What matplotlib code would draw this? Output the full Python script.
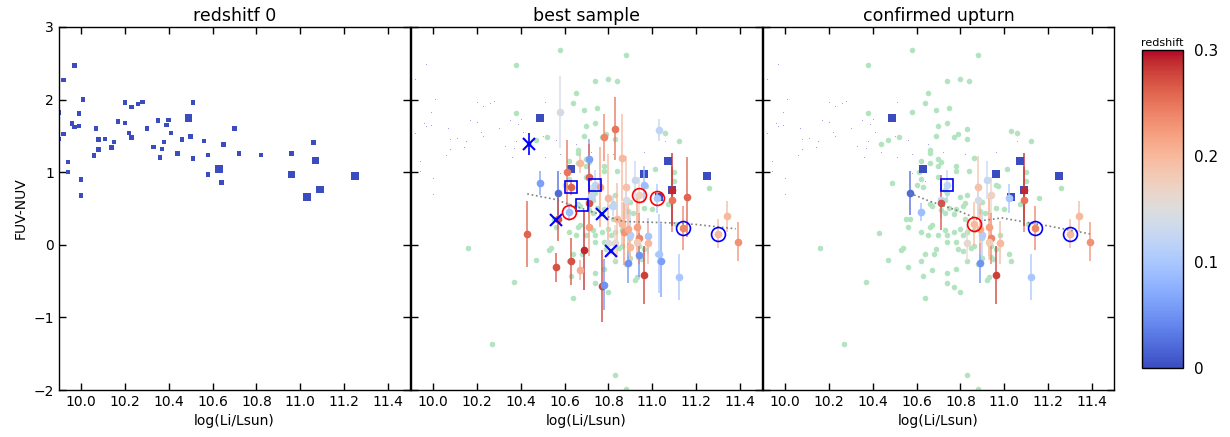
import numpy as np
import matplotlib
matplotlib.use("Agg")
from matplotlib import pyplot as plt
from matplotlib.colors import Normalize
from matplotlib.cm import ScalarMappable

# --- redshift 0 sample (big = the ones kept in the best sample) ---
z0_lum = [9.90, 9.90, 9.97, 9.92, 10.01, 9.99, 9.96, 9.97, 9.99, 9.92, 9.94, 9.94, 10.00, 10.00,
          10.07, 10.08, 10.08, 10.06, 10.11, 10.15, 10.14, 10.17, 10.20, 10.20, 10.23, 10.26,
          10.28, 10.22, 10.23, 10.30, 10.33, 10.35, 10.37, 10.36, 10.38, 10.39, 10.40, 10.41,
          10.44, 10.46, 10.49, 10.50, 10.51, 10.51, 10.56, 10.58, 10.58, 10.63, 10.64, 10.65,
          10.70, 10.72, 10.82, 10.96, 10.96, 11.06, 11.07, 11.03, 11.09, 11.25]
z0_col = [1.82, 1.46, 2.47, 2.27, 2.00, 1.81, 1.67, 1.62, 1.64, 1.53, 1.14, 1.00, 0.90, 0.68,
          1.60, 1.45, 1.31, 1.23, 1.46, 1.42, 1.34, 1.70, 1.68, 1.96, 1.90, 1.94,
          1.97, 1.54, 1.48, 1.60, 1.35, 1.71, 1.32, 1.20, 1.42, 1.65, 1.72, 1.54,
          1.26, 1.45, 1.75, 1.49, 1.96, 1.19, 1.43, 1.24, 0.97, 1.04, 0.86, 1.38,
          1.60, 1.26, 1.24, 1.26, 0.97, 1.41, 1.16, 0.66, 0.76, 0.95]
z0_big = [0] * 40 + [1] + [0] * 6 + [1] + [0] * 6 + [1, 0, 1, 1, 1, 1]

# --- comparison sample (green) ---
bg_lum = [10.58, 10.88, 10.38, 10.74, 10.80, 10.84, 10.65, 10.64, 10.75, 10.69, 10.58, 10.38,
          10.74, 10.70, 10.83, 11.03, 11.06, 10.69, 10.79, 10.77, 10.83, 10.52, 10.47, 10.44,
          11.12, 10.66, 10.86, 10.70, 10.62, 10.66, 10.71, 10.78, 10.70, 10.78, 10.84, 11.01,
          11.10, 11.10, 10.61, 10.62, 10.60, 10.63, 10.70, 10.49, 10.73, 10.74, 10.96, 10.97,
          11.26, 11.16, 10.80, 10.83, 10.73, 11.07, 11.00, 10.96, 10.66, 10.67, 10.71, 10.73,
          10.77, 10.81, 10.82, 10.89, 10.91, 10.55, 10.57, 10.56, 10.43, 10.67, 10.70, 10.65,
          10.62, 10.74, 10.77, 10.80, 10.81, 10.74, 10.78, 10.69, 10.68, 10.64, 10.54, 10.53,
          10.47, 10.62, 10.56, 10.67, 10.63, 10.74, 10.81, 10.83, 10.86, 10.88, 10.94, 10.95,
          11.02, 11.03, 10.98, 10.94, 10.96, 10.93, 10.90, 10.86, 10.83, 11.11, 10.77, 10.80,
          10.92, 10.93, 10.64, 10.37, 10.16, 10.27, 10.83, 10.88, 10.66, 10.75, 10.78, 10.90,
          10.82, 10.73, 10.79, 10.85, 10.90, 10.78, 10.74, 10.66]
bg_col = [2.69, 2.62, 2.48, 2.25, 2.28, 2.26, 2.09, 1.96, 1.89, 1.85, 1.83, 1.81,
          1.68, 1.63, 1.60, 1.57, 1.54, 1.50, 1.53, 1.48, 1.46, 1.48, 1.45, 1.39,
          1.43, 1.30, 1.20, 1.18, 1.15, 1.13, 1.14, 1.08, 1.08, 1.01, 1.01, 1.05,
          1.00, 0.88, 1.00, 0.91, 0.82, 0.79, 0.94, 0.85, 0.76, 0.71, 0.83, 0.81,
          0.78, 0.65, 0.66, 0.69, 0.62, 0.56, 0.49, 0.50, 0.56, 0.53, 0.48, 0.44,
          0.43, 0.53, 0.57, 0.46, 0.44, 0.36, 0.36, 0.24, 0.16, 0.27, 0.14, 0.14,
          0.18, 0.14, 0.18, 0.22, 0.13, 0.04, 0.04, -0.06, -0.12, -0.12, -0.05, -0.07,
          -0.21, -0.23, -0.31, -0.35, -0.43, -0.39, -0.09, -0.22, -0.02, -0.27, -0.17, -0.19,
          -0.12, -0.22, 0.13, -0.01, -0.06, 0.01, 0.10, 0.21, 0.17, 0.29, -0.58, -0.65,
          -0.48, -0.45, -0.73, -0.51, -0.05, -1.37, -1.79, -1.98, 1.27, 0.50, 0.49, 0.59,
          0.35, 0.21, -0.06, -0.04, -0.18, -0.33, -0.52, 0.25]

# --- best sample with errors; redshift; confirmed-upturn flag ---
bs_lum = [10.58, 10.49, 10.57, 10.61, 10.63, 10.62, 10.67, 10.71, 10.71, 10.74, 10.71, 10.71,
          10.78, 10.83, 10.86, 10.88, 10.88, 10.92, 10.96, 10.94, 11.02, 11.03, 11.09, 11.09,
          11.16, 11.34, 10.43, 10.57, 10.56, 10.63, 10.69, 10.67, 10.77, 10.78, 10.80, 10.83,
          10.89, 10.90, 10.94, 10.96, 10.94, 10.98, 10.98, 11.03, 11.04, 11.12, 11.14, 11.30,
          11.39, 10.87, 10.89, 10.84, 10.93, 10.86, 10.93, 10.90, 10.72, 10.82, 10.71, 10.80,
          10.76]
bs_col = [1.83, 0.85, 0.71, 1.00, 0.79, 0.45, 1.13, 1.18, 0.94, 0.83, 0.62, 0.58,
          1.48, 1.60, 1.20, 0.79, 0.62, 0.89, 0.83, 0.68, 0.64, 1.58, 0.62, 0.76,
          0.66, 0.39, 0.15, 0.35, -0.31, -0.23, -0.07, -0.35, -0.57, -0.55, 0.03, 0.02,
          -0.25, 0.14, -0.14, -0.42, 0.09, 0.12, 0.03, -0.12, -0.22, -0.44, 0.23, 0.15,
          0.04, 0.17, 0.22, 0.35, 0.24, 0.29, 0.04, -0.03, 0.67, 0.54, 0.25, 0.65,
          0.80]
bs_err = [0.50, 0.17, 0.30, 0.45, 0.10, 0.12, 0.14, 0.28, 0.45, 0.20, 0.25, 0.38,
          0.32, 0.43, 0.60, 0.43, 0.25, 0.26, 0.25, 0.25, 0.20, 0.15, 0.45, 0.50,
          0.55, 0.22, 0.45, 0.30, 0.20, 0.33, 0.55, 0.14, 0.50, 0.35, 0.20, 0.25,
          0.28, 0.30, 0.30, 0.40, 0.35, 0.25, 0.30, 0.55, 0.50, 0.32, 0.30, 0.20,
          0.27, 0.45, 0.35, 0.50, 0.40, 0.30, 0.25, 0.25, 0.15, 0.15, 0.40, 0.60,
          0.55]
bs_z = [0.14, 0.06, 0.02, 0.25, 0.26, 0.09, 0.20, 0.06, 0.26, 0.12, 0.12, 0.27,
        0.24, 0.25, 0.20, 0.19, 0.14, 0.13, 0.09, 0.17, 0.10, 0.12, 0.25, 0.29,
        0.26, 0.20, 0.26, 0.27, 0.27, 0.27, 0.29, 0.21, 0.28, 0.05, 0.15, 0.16,
        0.05, 0.11, 0.05, 0.28, 0.24, 0.10, 0.20, 0.10, 0.06, 0.10, 0.24, 0.20,
        0.23, 0.23, 0.21, 0.20, 0.22, 0.20, 0.18, 0.20, 0.12, 0.12, 0.22, 0.20,
        0.22]
bs_up = [0, 0, 1, 0, 0, 1, 0, 0, 0, 1, 1, 1,
         0, 0, 0, 1, 1, 1, 0, 1, 1, 0, 1, 1,
         0, 1, 0, 0, 0, 0, 0, 0, 0, 0, 0, 1,
         1, 1, 0, 1, 1, 0, 1, 0, 0, 1, 1, 1,
         1, 0, 1, 0, 1, 1, 1, 0, 0, 0, 0, 0,
         0]

# --- special markers ---
cross_lum = [10.44, 10.56, 10.77, 10.81]
cross_col = [1.39, 0.34, 0.42, -0.09]
cross_err = [0.15, 0, 0, 0]
bsq_lum_best = [10.63, 10.74, 10.68]
bsq_col_best = [0.79, 0.83, 0.55]
bsq_lum_up = [10.74]
bsq_col_up = [0.83]
rcirc_lum_best = [10.62, 10.94, 11.02]
rcirc_col_best = [0.45, 0.68, 0.64]
rcirc_lum_up = [10.86]
rcirc_col_up = [0.29]
bcirc_lum = [11.14, 11.30]
bcirc_col = [0.23, 0.15]

# --- running medians ---
med_lum_best = [10.43, 10.55, 10.65, 10.75, 10.87, 11.0, 11.1, 11.2, 11.38]
med_col_best = [0.70, 0.63, 0.53, 0.43, 0.32, 0.31, 0.30, 0.28, 0.22]
med_lum_up = [10.57, 10.66, 10.77, 10.83, 10.89, 10.99, 11.1, 11.2, 11.39]
med_col_up = [0.71, 0.60, 0.49, 0.42, 0.33, 0.37, 0.31, 0.26, 0.15]

cmap = plt.get_cmap("coolwarm")
norm = Normalize(vmin=0, vmax=0.3)
blue0 = cmap(0.0)
green = "#b3e4c0"

plt.rcParams["font.family"] = "DejaVu Sans"
fig = plt.figure(figsize=(12.3, 4.37), dpi=100)
fig.patch.set_facecolor("white")

panel_w = 351 / 1230
bottom = 1 - 390 / 437
height = 363 / 437
lefts = [59 / 1230, 411 / 1230, 763 / 1230]
axes = [fig.add_axes([l, bottom, panel_w, height]) for l in lefts]
titles = ["redshitf 0", "best sample", "confirmed upturn"]

z0_lum = np.array(z0_lum)
z0_col = np.array(z0_col)
big = np.array(z0_big, dtype=bool)


def draw_errpoints(ax, mask):
    for x, y, e, z, m in zip(bs_lum, bs_col, bs_err, bs_z, mask):
        if not m:
            continue
        c = cmap(norm(z))
        _, _, bars = ax.errorbar(x, y, yerr=e, fmt="o", color=c, ms=4.5, mec=c,
                                 elinewidth=1.3, capsize=0, zorder=3)
        bars[0].set_alpha(0.75)


for i, ax in enumerate(axes):
    if i == 0:
        sizes = np.where(big, 30, 10)
        ax.scatter(z0_lum, z0_col, s=sizes, marker="s", color=blue0, linewidths=0, zorder=2)
    else:
        ax.plot(z0_lum[~big], z0_col[~big], ",", color=blue0, alpha=0.5, zorder=1)
        ax.scatter(bg_lum, bg_col, s=16, color=green, linewidths=0, zorder=1)
        ax.scatter(z0_lum[big], z0_col[big], s=30, marker="s", color=blue0,
                   linewidths=0, zorder=2)
        if i == 1:
            draw_errpoints(ax, [1] * len(bs_lum))
            ax.plot(med_lum_best, med_col_best, ":", color="gray", lw=1.2, zorder=4)
            ax.errorbar(cross_lum, cross_col, yerr=cross_err, fmt="x", color="blue",
                        ms=8, mew=1.5, elinewidth=1.2, capsize=0, zorder=5)
            ax.plot(bsq_lum_best, bsq_col_best, "s", mfc="none", mec="blue", ms=9,
                    mew=1.2, zorder=5)
            ax.plot(rcirc_lum_best, rcirc_col_best, "o", mfc="none", mec="red", ms=10,
                    mew=1.2, zorder=5)
        else:
            draw_errpoints(ax, bs_up)
            ax.plot(med_lum_up, med_col_up, ":", color="gray", lw=1.2, zorder=4)
            ax.plot(bsq_lum_up, bsq_col_up, "s", mfc="none", mec="blue", ms=9,
                    mew=1.2, zorder=5)
            ax.plot(rcirc_lum_up, rcirc_col_up, "o", mfc="none", mec="red", ms=10,
                    mew=1.2, zorder=5)
        ax.plot(bcirc_lum, bcirc_col, "o", mfc="none", mec="blue", ms=10, mew=1.2, zorder=5)

    ax.set_xlim(9.9, 11.5)
    ax.set_ylim(-2, 3)
    ax.set_xticks(np.arange(10.0, 11.41, 0.2))
    ax.set_xticklabels(["%.1f" % v for v in np.arange(10.0, 11.41, 0.2)])
    ax.set_yticks([-2, -1, 0, 1, 2, 3])
    ax.tick_params(direction="in", top=True, right=True, length=5, width=1,
                   labelsize=10)
    if i > 0:
        ax.set_yticklabels([])
    else:
        ax.set_ylabel("FUV-NUV", fontsize=10)
    ax.set_xlabel("log(Li/Lsun)", fontsize=10)
    ax.set_title(titles[i], fontsize=12.5, pad=4)
    for sp in ax.spines.values():
        sp.set_linewidth(1.0)

cax = fig.add_axes([1142 / 1230, 1 - 368 / 437, 41 / 1230, 318 / 437])
sm = ScalarMappable(norm=norm, cmap=cmap)
cb = fig.colorbar(sm, cax=cax, ticks=[0, 0.1, 0.2, 0.3])
cb.ax.set_yticklabels(["0", "0.1", "0.2", "0.3"])
cb.ax.tick_params(length=0, labelsize=11, pad=8)
cb.outline.set_linewidth(1.0)
cax.set_title("redshift", fontsize=8, pad=3)

fig.savefig("out.png", dpi=100, facecolor="white")
